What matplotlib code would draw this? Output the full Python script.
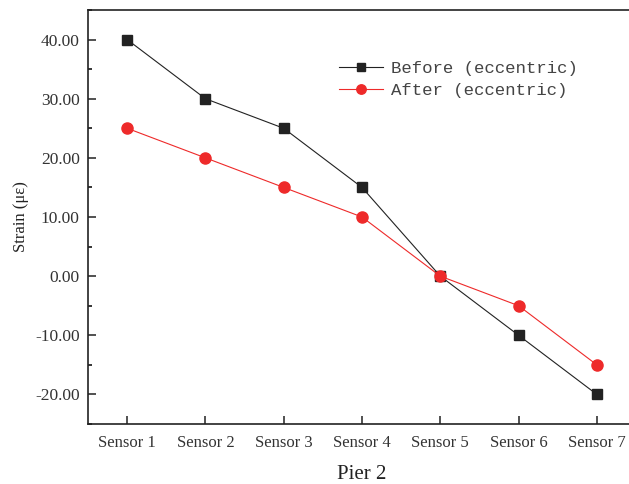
import matplotlib
matplotlib.use("Agg")
import matplotlib.pyplot as plt
from matplotlib.ticker import MultipleLocator, FormatStrFormatter

categories = ["Sensor 1", "Sensor 2", "Sensor 3", "Sensor 4", "Sensor 5", "Sensor 6", "Sensor 7"]
before = [40, 30, 25, 15, 0, -10, -20]
after = [25, 20, 15, 10, 0, -5, -15]

plt.rcParams['font.family'] = ['Liberation Serif', 'DejaVu Serif']
fig = plt.figure(figsize=(6.29, 4.84), dpi=100)
ax = fig.add_axes([88/629, 1-424/484, (636-88)/629, (424-10)/484])

x = list(range(1, len(categories)+1))
ax.plot(x, before, color='#222222', lw=0.8, marker='s', ms=7.5, mfc='#222222', mec='#222222',
        label='Before (eccentric)')
ax.plot(x, after, color='#ee2a2a', lw=0.8, marker='o', ms=8, mfc='#ee2a2a', mec='#ee2a2a',
        label='After (eccentric)')

ax.set_xlim(0.5, 7.5)
ax.set_ylim(-25, 45)
ax.set_xticks(x)
ax.set_xticklabels(categories)
ax.yaxis.set_major_locator(MultipleLocator(10))
ax.yaxis.set_minor_locator(MultipleLocator(5))
ax.yaxis.set_major_formatter(FormatStrFormatter('%.2f'))
ax.tick_params(axis='both', which='major', direction='in', length=6, width=1.1, labelsize=12, colors='#222222', labelcolor='#333333', pad=6)
ax.tick_params(axis='y', which='minor', direction='in', length=3, width=1.1)
ax.tick_params(axis='y', labelsize=12.5)
ax.tick_params(axis='x', pad=8)
for s in ax.spines.values():
    s.set_linewidth(1.2)
    s.set_color('#222222')

ax.set_xlabel('Pier 2', fontsize=15, color='#222222', labelpad=10)
ax.set_ylabel('Strain (με)', fontsize=12, color='#222222', labelpad=4)

leg = ax.legend(loc='upper left', bbox_to_anchor=(0.43, 0.915), frameon=False,
                prop={'family': 'Liberation Mono', 'size': 12.5}, handlelength=2.5,
                handletextpad=0.5, labelspacing=0.4, markerscale=0.85)
for t in leg.get_texts():
    t.set_color('#444444')

fig.savefig('out.png', dpi=100)
